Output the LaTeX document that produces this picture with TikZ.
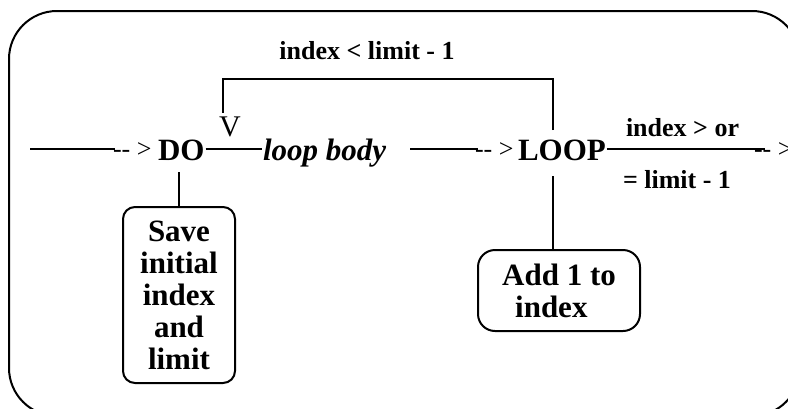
\documentclass[tikz,border=0pt]{standalone}
\usepackage{fontspec}
\setmainfont{Liberation Serif}
\begin{document}
\begin{tikzpicture}[x=0.5pt,y=-0.5pt, line width=1pt,
  big/.style={font=\fontsize{15.5}{16}\selectfont\bfseries, inner sep=0pt},
  small/.style={font=\fontsize{13}{14}\selectfont\bfseries, inner sep=0pt},
  arrowtxt/.style={font=\fontsize{13}{14}\selectfont, inner sep=0pt, anchor=base west},
  box/.style={draw, line width=1pt, big, align=center}]
\useasboundingbox (0,0) rectangle (788,408);
\clip (0,0) rectangle (788,408);
% outer frame
\draw[rounded corners=24pt] (9,11) rectangle (800,416);

% main row
\coordinate (in) at (30,149);
\node[big, anchor=base west] (do) at (157,160) {DO};
\node[arrowtxt] (a1) at (112,157) {-{}- >};
\draw (in) -- ([xshift=1.5pt]in -| a1.west);

\node[big, anchor=base west, font=\fontsize{15.5}{16}\selectfont\bfseries\itshape] (body) at (262,160) {loop body};
\draw (do.east |- in) -- (body.west |- in);

\coordinate (l2s) at (410,149);
\node[arrowtxt] (a2) at (474,157) {-{}- >};
\draw (l2s) -- ([xshift=2pt]l2s -| a2.west);

\node[big, anchor=base west] (loop) at (517,160) {LOOP};
\node[arrowtxt] (a3) at (753,157) {-{}- >};
\draw (loop.east |- in) -- ([xshift=6pt]in -| a3.west);

% labels
\node[small, anchor=base] (cond) at (367,59) {index < limit - 1};
\node[small, anchor=base west] (exit1) at (625,136) {index > or};
\node[small, anchor=base west] (exit2) at (622,188) {= limit - 1};

% loop back
\coordinate (lt) at (553,130);
\coordinate (lc1) at (553,79);
\coordinate (lc2) at (223,79);
\coordinate (le) at (223,113);
\draw (lt) -- (lc1) -- (lc2) -- (le);
\node[font=\fontsize{15}{15}\selectfont, inner sep=0pt, anchor=base] (v) at (230,136) {V};

% boxes
\node[box, rounded corners=6pt, minimum width=56pt, minimum height=88pt] (save) at (179,295) {Save\\initial\\index\\and\\limit};
\draw (save.north) -- ++(0,-34);
\node[box, rounded corners=8.5pt, minimum width=81pt, minimum height=40.5pt, align=left] (add) at (559,290.5) {Add 1 to\\\hspace*{6.5pt}index};
\draw ([xshift=-3pt]add.north) -- ++(0,-73);
\end{tikzpicture}
\end{document}
